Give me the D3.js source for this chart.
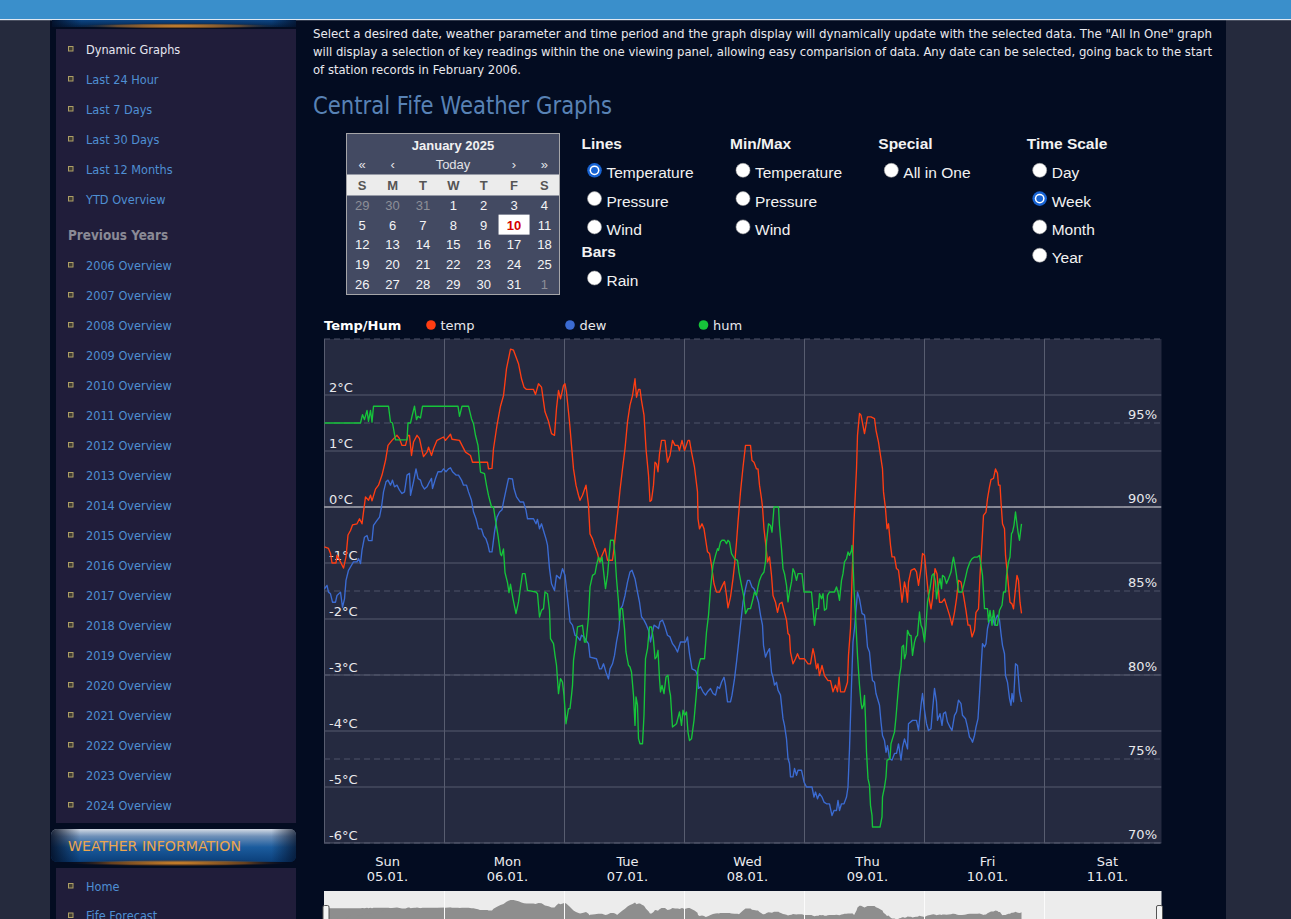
<!DOCTYPE html>
<html>
<head>
<meta charset="utf-8">
<title>Central Fife Weather Graphs</title>
<script src="https://cdn.jsdelivr.net/npm/d3@7/dist/d3.min.js"></script>
<style>
  html, body { margin: 0; padding: 0; background: #252a3d; overflow: hidden; }
  svg { display: block; }
</style>
</head>
<body>
<svg id="page"></svg>
<script>
// ---------- data ----------
const startUtc = Date.UTC(2025, 0, 5);   // Sun 05.01.2025 00:00
const dayNames = ['Sun', 'Mon', 'Tue', 'Wed', 'Thu', 'Fri', 'Sat'];
const dayDates = ['05.01.', '06.01.', '07.01.', '08.01.', '09.01.', '10.01.', '11.01.'];
const tempTicks = [-6, -5, -4, -3, -2, -1, 0, 1, 2];
const humTicks = [70, 75, 80, 85, 90, 95];
const humGrid = [70, 75, 80, 85, 90, 95, 100];
const legendNames = ['temp', 'dew', 'hum'];

// [hours since Sun 00:00, value]
const temp = [[0.1,-0.71],[0.9,-0.74],[1.3,-0.83],[1.6,-1.0],[2.4,-1.0],[2.6,-0.86],[3.3,-0.98],[3.9,-1.09],[4.4,-0.89],[4.8,-0.5],[5.3,-0.42],[5.7,-0.32],[6.6,-0.3],[7.1,-0.21],[7.6,-0.3],[7.9,-0.09],[8.3,0.18],[8.9,0.12],[9.3,0.21],[9.6,0.11],[10.3,0.32],[10.9,0.39],[11.6,0.57],[12.3,0.83],[12.8,1.1],[13.6,1.19],[14.6,1.28],[15.1,1.22],[15.6,1.1],[16.3,1.1],[16.8,1.28],[17.1,1.28],[17.5,0.92],[17.9,1.16],[18.6,1.28],[19.1,1.22],[19.6,1.01],[19.9,0.9],[20.6,0.98],[20.9,1.07],[21.5,0.92],[21.9,1.04],[22.6,1.19],[23.9,1.25],[24.3,1.19],[25.3,1.3],[25.6,1.21],[27.1,1.19],[27.6,1.1],[28.3,0.98],[29.3,0.92],[29.7,0.8],[32.7,0.8],[32.9,0.68],[33.6,0.69],[33.9,1.04],[34.6,1.46],[35.3,1.8],[35.9,1.99],[36.5,2.47],[37.3,2.82],[37.9,2.8],[38.9,2.56],[39.5,2.29],[40.0,2.14],[40.5,2.1],[41.9,2.1],[42.3,2.01],[42.9,2.2],[43.5,2.14],[44.2,1.7],[44.9,1.53],[45.5,1.31],[46.1,1.28],[46.5,1.76],[46.9,2.08],[47.3,1.93],[47.9,2.17],[48.2,2.2],[48.5,2.05],[49.1,1.52],[49.5,1.1],[49.9,0.68],[50.4,0.39],[50.9,0.21],[51.2,0.12],[51.7,0.21],[52.4,0.39],[52.9,0.03],[53.2,-0.48],[53.7,-0.57],[54.2,-0.71],[54.7,-0.83],[55.1,-0.98],[55.5,-0.89],[56.2,-0.74],[56.7,-0.95],[57.7,-0.95],[58.0,-0.74],[58.4,-0.39],[58.9,0.03],[59.2,0.3],[59.7,0.68],[60.2,1.04],[60.7,1.52],[61.2,1.82],[61.7,1.99],[62.2,2.29],[62.5,1.96],[62.9,2.1],[63.2,2.1],[63.5,1.9],[64.0,1.64],[64.4,1.04],[64.9,0.57],[65.2,0.1],[65.5,0.12],[65.9,0.39],[66.2,0.8],[66.5,0.77],[66.8,0.63],[67.1,0.95],[67.5,1.19],[68.2,1.19],[68.7,0.8],[69.2,0.92],[69.7,1.19],[70.2,1.1],[70.8,1.1],[71.1,1.01],[71.6,1.19],[72.1,1.01],[72.8,1.19],[73.1,1.19],[73.5,0.98],[74.1,0.71],[74.7,0.27],[74.8,-0.21],[75.1,-0.39],[75.6,-0.3],[76.0,-0.39],[76.7,-0.8],[77.1,-0.83],[77.5,-1.04],[78.0,-1.37],[78.5,-1.52],[79.1,-1.52],[79.7,-1.4],[80.1,-1.33],[80.5,-1.58],[80.8,-1.8],[81.3,-1.61],[81.8,-1.28],[82.1,-1.04],[82.5,-0.63],[82.8,-0.27],[83.3,0.27],[83.8,0.71],[84.3,1.1],[85.3,1.1],[85.6,0.83],[86.0,0.8],[86.5,0.68],[86.8,0.68],[87.1,0.39],[87.5,0.15],[87.7,0.0],[88.0,-0.39],[88.3,-0.63],[88.7,-0.98],[89.1,-0.89],[89.5,-1.22],[89.8,-1.58],[90.3,-1.7],[90.7,-1.88],[91.1,-1.73],[91.6,-1.7],[92.0,-1.85],[92.5,-2.02],[92.8,-2.26],[93.1,-2.29],[93.3,-2.59],[93.8,-2.8],[94.3,-2.71],[94.7,-2.62],[95.1,-2.71],[96.1,-2.71],[96.8,-2.8],[97.3,-2.8],[97.8,-2.53],[98.1,-2.65],[98.5,-2.89],[98.8,-2.8],[99.1,-3.01],[99.6,-2.83],[100.1,-3.01],[100.8,-3.1],[101.3,-3.1],[101.8,-3.3],[102.3,-3.18],[102.7,-3.3],[103.0,-3.04],[103.3,-3.3],[104.1,-3.3],[104.7,-3.13],[104.9,-2.65],[105.3,-2.17],[105.6,-1.28],[106.0,-0.27],[106.5,0.68],[106.7,1.28],[107.1,1.67],[107.4,1.64],[108.1,1.31],[108.7,1.61],[109.4,1.61],[110.1,1.58],[110.4,1.37],[110.9,1.16],[111.4,0.86],[111.7,0.68],[111.9,0.27],[112.3,-0.03],[112.6,-0.39],[112.9,-0.3],[113.3,-0.68],[113.6,-0.89],[114.1,-0.89],[114.5,-1.1],[114.9,-1.13],[115.2,-1.34],[115.6,-1.7],[116.1,-1.34],[116.4,-1.46],[116.7,-1.7],[116.9,-1.34],[117.4,-1.13],[118.1,-1.1],[118.5,-1.16],[118.9,-1.4],[119.4,-1.1],[119.7,-0.83],[120.1,-0.86],[120.5,-1.22],[120.9,-1.58],[121.4,-1.82],[121.7,-1.64],[122.2,-1.1],[122.6,-1.19],[123.1,-1.7],[123.6,-1.7],[124.1,-1.64],[124.4,-1.73],[125.1,-1.93],[125.6,-2.11],[126.1,-1.88],[126.5,-1.64],[126.9,-1.31],[127.4,-1.34],[127.9,-1.58],[128.4,-1.85],[128.8,-2.11],[129.2,-2.11],[129.6,-2.32],[130.1,-2.2],[130.4,-1.88],[130.9,-1.82],[131.2,-1.22],[131.6,-0.63],[131.9,-0.15],[132.4,-0.09],[132.7,0.15],[133.1,0.36],[133.4,0.49],[133.9,0.51],[134.3,0.68],[134.7,0.6],[134.9,0.39],[135.2,0.39],[135.4,0.09],[135.7,-0.3],[136.1,-0.39],[136.3,-0.86],[136.7,-1.22],[137.2,-1.7],[137.6,-1.73],[137.9,-1.82],[138.3,-1.46],[138.6,-1.22],[138.9,-1.31],[139.2,-1.7],[139.5,-1.9]];

const dew = [[0.1,-1.46],[0.6,-1.4],[0.9,-1.52],[1.3,-1.55],[1.7,-1.7],[2.3,-1.7],[2.6,-1.58],[3.3,-1.52],[3.7,-1.79],[4.1,-1.64],[4.4,-1.31],[4.9,-1.13],[5.5,-1.04],[5.9,-0.98],[6.6,-0.98],[6.9,-0.92],[7.3,-1.01],[7.6,-0.77],[8.1,-0.54],[8.6,-0.51],[8.9,-0.6],[9.6,-0.6],[9.9,-0.33],[10.6,-0.24],[11.1,-0.18],[11.5,0.0],[11.9,0.27],[12.4,0.45],[12.8,0.48],[13.3,0.39],[13.7,0.48],[14.1,0.36],[14.6,0.39],[15.1,0.3],[15.6,0.24],[16.1,0.27],[16.6,0.57],[17.1,0.6],[17.3,0.21],[17.9,0.45],[18.4,0.68],[18.8,0.51],[19.3,0.48],[19.6,0.39],[20.1,0.32],[20.6,0.36],[21.1,0.45],[21.5,0.51],[21.7,0.33],[22.3,0.51],[22.8,0.63],[23.5,0.63],[23.9,0.68],[24.4,0.63],[24.9,0.68],[25.3,0.7],[25.7,0.63],[26.4,0.57],[26.9,0.57],[27.5,0.48],[27.9,0.39],[28.5,0.39],[28.9,0.27],[29.5,0.12],[29.9,-0.09],[30.4,-0.21],[30.9,-0.39],[31.5,-0.39],[31.9,-0.51],[32.4,-0.57],[32.8,-0.68],[33.1,-0.8],[33.6,-0.8],[34.1,-0.45],[34.6,-0.18],[35.1,-0.09],[35.6,-0.05],[35.9,0.09],[36.4,0.3],[36.9,0.51],[37.7,0.5],[38.0,0.33],[38.5,0.18],[39.2,0.09],[39.9,0.09],[40.4,-0.06],[40.7,-0.21],[41.9,-0.21],[42.4,-0.3],[42.7,-0.22],[43.1,-0.39],[43.5,-0.3],[44.0,-0.45],[44.4,-0.57],[44.7,-0.68],[45.1,-1.1],[45.5,-1.37],[46.1,-1.49],[46.5,-1.22],[47.2,-1.28],[47.7,-1.1],[48.2,-1.22],[48.5,-1.46],[48.9,-1.79],[49.2,-2.05],[49.7,-2.11],[50.2,-2.29],[50.7,-2.32],[51.2,-2.38],[51.5,-2.29],[52.0,-2.32],[52.4,-2.38],[52.9,-2.44],[53.2,-2.68],[54.5,-2.71],[55.1,-2.89],[55.5,-2.89],[55.9,-2.8],[56.4,-2.95],[56.9,-3.07],[57.2,-2.89],[57.7,-2.8],[58.1,-2.65],[58.5,-2.41],[59.0,-2.17],[59.3,-1.82],[59.7,-1.76],[60.2,-1.58],[60.7,-1.34],[61.2,-1.16],[61.6,-1.13],[62.2,-1.28],[62.7,-1.52],[63.1,-1.7],[63.5,-1.96],[64.0,-2.02],[64.5,-2.11],[64.9,-2.2],[65.3,-2.41],[65.7,-2.23],[66.0,-2.11],[66.5,-2.14],[66.9,-2.17],[67.2,-2.05],[67.7,-2.02],[68.2,-2.14],[68.7,-2.29],[69.2,-2.32],[69.7,-2.44],[70.2,-2.5],[70.7,-2.59],[71.3,-2.41],[72.3,-2.41],[72.7,-2.32],[73.1,-2.62],[73.6,-2.89],[74.3,-2.92],[74.7,-3.01],[74.9,-3.24],[75.3,-3.21],[75.8,-3.3],[76.3,-3.36],[76.7,-3.3],[77.3,-3.24],[77.8,-3.33],[78.3,-3.36],[78.7,-3.21],[79.1,-3.24],[79.5,-3.13],[80.0,-3.04],[80.3,-3.18],[80.7,-3.48],[81.3,-3.48],[81.6,-3.36],[82.1,-3.07],[82.5,-2.77],[82.8,-2.53],[83.3,-2.11],[83.8,-1.7],[84.3,-1.46],[84.7,-1.31],[85.1,-1.31],[85.6,-1.43],[86.0,-1.46],[86.5,-1.58],[86.9,-1.7],[87.3,-1.93],[87.7,-2.11],[87.9,-2.47],[88.3,-2.68],[88.7,-2.59],[89.1,-2.53],[89.5,-2.95],[89.8,-3.04],[90.1,-3.18],[90.5,-3.13],[90.8,-3.27],[91.3,-3.36],[91.8,-3.78],[92.1,-3.9],[92.5,-4.14],[92.8,-4.49],[93.1,-4.58],[93.3,-4.82],[93.8,-4.82],[94.1,-4.67],[94.5,-4.79],[94.8,-4.7],[95.5,-4.7],[96.0,-4.91],[96.5,-5.0],[97.6,-5.0],[98.0,-5.18],[98.3,-5.09],[98.7,-5.21],[99.1,-5.12],[99.6,-5.18],[100.0,-5.27],[100.5,-5.3],[101.1,-5.3],[101.6,-5.51],[102.0,-5.42],[102.5,-5.42],[102.8,-5.24],[103.1,-5.42],[103.5,-5.3],[104.0,-5.3],[104.5,-5.18],[104.8,-5.0],[105.1,-4.32],[105.5,-3.18],[105.8,-2.41],[106.1,-2.17],[106.7,-1.52],[107.1,-1.64],[107.6,-1.9],[108.1,-1.93],[108.4,-2.17],[108.7,-2.5],[109.1,-2.59],[109.4,-2.89],[109.7,-3.1],[110.1,-3.13],[110.4,-3.33],[110.7,-3.42],[111.1,-3.54],[111.4,-3.84],[111.7,-4.08],[112.1,-4.17],[112.4,-4.38],[112.7,-4.26],[113.1,-4.49],[113.6,-4.52],[114.1,-4.4],[114.5,-4.4],[114.9,-4.23],[115.4,-4.52],[115.7,-4.29],[116.1,-4.14],[116.4,-4.23],[116.7,-4.32],[116.9,-3.87],[117.7,-3.81],[118.5,-3.81],[118.9,-3.99],[119.4,-3.54],[119.7,-3.33],[120.1,-3.63],[120.5,-3.87],[120.9,-3.99],[121.4,-3.96],[121.7,-3.63],[122.1,-3.24],[122.5,-3.48],[122.7,-3.81],[123.2,-3.69],[123.6,-3.9],[123.9,-3.69],[124.3,-3.66],[124.7,-3.84],[125.2,-3.93],[125.6,-3.99],[126.1,-3.72],[126.5,-3.66],[126.9,-3.45],[127.4,-3.51],[127.7,-3.72],[128.3,-3.78],[128.7,-3.93],[129.1,-4.11],[129.4,-4.14],[129.7,-4.2],[130.1,-4.08],[130.4,-3.93],[130.8,-3.78],[131.1,-3.36],[131.4,-2.89],[131.7,-2.44],[132.1,-2.5],[132.4,-2.44],[132.7,-2.17],[133.1,-2.02],[133.4,-2.02],[133.7,-1.96],[134.1,-2.11],[134.4,-1.99],[134.7,-1.93],[135.1,-2.02],[135.4,-2.26],[135.7,-2.47],[136.1,-2.62],[136.3,-3.01],[136.7,-3.13],[137.1,-3.42],[137.4,-3.54],[137.6,-3.33],[137.9,-3.48],[138.3,-2.8],[138.7,-2.83],[139.1,-3.3],[139.5,-3.48]];

const hum = [[0.1,95],[7.3,95],[7.7,95.5],[8.1,95.2],[8.6,95.75],[8.9,95.1],[9.3,95.75],[9.6,95.05],[9.9,96],[12.9,96],[13.3,95.06],[13.7,95],[14.3,94],[16.6,94],[16.8,95],[17.3,95],[17.6,95.4],[18.1,96],[18.5,95.2],[18.8,95.4],[19.3,95.3],[19.7,96],[26.8,96],[27.1,95.4],[27.6,96],[28.9,96],[29.5,95.26],[29.9,94.96],[30.3,94.27],[30.8,93.67],[31.3,92.08],[32.1,91.98],[32.5,91.29],[32.9,90.69],[33.5,90],[33.9,90],[34.3,89.2],[34.8,88.3],[35.3,87.2],[35.5,87.1],[35.9,87.5],[36.2,86.1],[36.7,85.5],[37.0,84.9],[37.3,85.4],[37.7,84.7],[38.4,83.65],[38.9,84.35],[39.3,85.24],[39.7,86.03],[40.2,86.03],[40.7,85.04],[42.4,84.94],[42.7,84.84],[43.1,83.45],[43.5,83.85],[43.9,83.95],[44.2,84.94],[44.7,84.84],[45.1,83.85],[45.3,82.16],[45.9,81.87],[46.2,81.17],[46.5,80.58],[46.9,78.89],[47.3,79.78],[47.7,79.58],[48.0,78.79],[48.4,77.1],[48.9,78.0],[49.2,78.0],[49.5,78.79],[49.7,79.38],[49.9,80.87],[50.4,81.96],[50.7,82.86],[51.7,82.96],[52.1,81.96],[52.4,81.96],[52.9,83.45],[53.2,85.24],[53.7,85.93],[54.2,86.03],[54.5,86.53],[54.9,87.02],[55.3,86.73],[55.6,87.02],[56.0,85.93],[56.3,85.14],[56.7,85.93],[57.1,87.32],[57.3,88.02],[57.9,88.02],[58.2,87.12],[58.5,85.73],[58.9,84.35],[59.1,83.25],[59.3,83.95],[59.7,83.95],[60.1,82.76],[60.4,81.37],[60.9,80.58],[61.2,80.48],[61.5,80.18],[61.9,78.79],[62.2,77.0],[62.4,78.7],[62.7,78.2],[62.9,76.21],[63.2,75.91],[63.7,75.91],[64.0,77.6],[64.3,80.97],[64.7,81.57],[65.1,82.86],[65.5,82.86],[65.9,82.06],[66.2,80.97],[66.5,81.07],[66.8,81.47],[67.1,79.78],[67.3,78.99],[67.6,79.38],[68.0,78.89],[68.4,79.88],[68.8,79.98],[69.1,79.08],[69.3,78.79],[69.7,76.9],[70.5,77.1],[71.1,77.8],[71.5,77.0],[71.8,77.9],[72.1,77.6],[72.5,77.8],[72.8,76.6],[73.1,76.1],[73.5,76.2],[74.0,77.3],[74.5,79.0],[74.8,80.38],[75.3,80.97],[76.1,80.97],[76.5,82.56],[76.9,83.55],[77.3,85.14],[77.8,86.53],[78.3,87.12],[78.7,87.52],[78.9,87.42],[79.3,87.92],[79.6,88.02],[80.1,88.02],[80.5,87.82],[80.8,88.02],[81.1,87.92],[81.5,87.22],[82.1,86.92],[82.7,86.82],[83.0,86.13],[83.5,85.34],[83.9,84.74],[84.3,83.65],[84.8,83.95],[85.3,83.95],[85.8,84.54],[86.1,84.94],[86.5,84.74],[86.8,85.24],[87.1,85.63],[87.5,85.93],[88.0,86.13],[88.3,86.73],[88.5,87.92],[88.9,89.0],[89.3,88.9],[89.6,88.5],[90.0,90],[90.9,90],[91.1,88.9],[91.5,87.52],[91.8,86.33],[92.1,86.03],[92.5,85.34],[92.8,84.35],[93.1,84.94],[93.5,85.54],[93.8,86.33],[94.1,86.13],[94.5,85.63],[94.8,86.03],[95.6,86.03],[96.0,84.94],[97.5,84.94],[97.8,83.95],[98.1,82.96],[98.5,83.95],[98.9,83.95],[99.1,84.84],[99.5,84.54],[99.8,84.84],[100.1,83.85],[100.5,83.95],[100.7,84.74],[101.1,84.94],[102.1,84.94],[102.5,85.24],[102.8,84.94],[103.1,84.44],[103.5,85.63],[103.8,86.03],[104.1,86.73],[104.5,86.92],[104.8,87.32],[105.1,87.12],[105.5,87.42],[105.6,87.72],[105.8,86.73],[106.0,85.14],[106.3,83.55],[106.7,81.17],[107.1,79.38],[107.4,78.39],[107.6,78.0],[107.9,78.2],[108.1,78.79],[108.3,77.4],[108.5,75.42],[108.8,73.83],[109.1,73.43],[109.3,72.24],[109.6,71.65],[109.7,70.95],[111.2,70.95],[111.6,71.55],[111.7,72.74],[112.1,73.33],[112.4,73.93],[112.6,74.92],[113.2,75.02],[113.4,75.91],[113.7,76.21],[114.1,76.6],[114.4,77.5],[114.7,78.59],[115.1,79.98],[115.4,80.48],[115.6,81.67],[115.9,81.77],[116.1,80.97],[116.4,81.27],[116.7,82.66],[117.1,82.36],[117.4,82.36],[117.7,81.17],[118.1,81.96],[118.4,82.26],[118.7,82.36],[119.1,83.75],[119.4,82.96],[119.7,82.76],[120.1,81.96],[120.4,82.96],[120.7,84.35],[121.2,85.14],[121.6,85.93],[121.9,86.03],[122.3,85.54],[122.5,84.54],[122.9,85.34],[123.2,85.73],[123.5,85.14],[123.7,85.93],[124.1,85.83],[124.5,85.44],[124.9,85.73],[125.4,86.13],[125.7,86.73],[125.9,87.02],[126.3,86.33],[126.5,85.93],[126.9,84.94],[127.6,84.94],[128.1,85.54],[128.4,85.93],[128.7,86.33],[129.2,86.73],[129.6,86.92],[130.1,87.02],[130.7,87.02],[131.1,87.12],[131.4,86.53],[131.7,85.93],[132.1,83.95],[132.7,83.95],[132.9,83.15],[133.2,83.85],[133.6,82.96],[133.9,83.85],[134.3,82.96],[134.7,82.96],[135.1,83.85],[135.6,84.15],[135.9,84.94],[136.3,84.94],[136.5,85.93],[136.9,86.73],[137.2,87.02],[137.5,88.41],[137.7,88.51],[138.0,88.91],[138.3,89.7],[138.5,89.21],[138.8,88.51],[139.1,88.02],[139.3,88.51],[139.5,89.0]];

// sidebar and page texts
const menuLinks = ['Dynamic Graphs', 'Last 24 Hour', 'Last 7 Days', 'Last 30 Days', 'Last 12 Months', 'YTD Overview'];
const yearLinks = ['2006 Overview', '2007 Overview', '2008 Overview', '2009 Overview', '2010 Overview', '2011 Overview',
  '2012 Overview', '2013 Overview', '2014 Overview', '2015 Overview', '2016 Overview', '2017 Overview', '2018 Overview',
  '2019 Overview', '2020 Overview', '2021 Overview', '2022 Overview', '2023 Overview', '2024 Overview'];
const infoLinks = ['Home', 'Fife Forecast'];
const introLines = [
  'Select a desired date, weather parameter and time period and the graph display will dynamically update with the selected data. The "All In One" graph',
  'will display a selection of key readings within the one viewing panel, allowing easy comparision of data. Any date can be selected, going back to the start',
  'of station records in February 2006.'
];

// calendar
const calWeekdays = ['S', 'M', 'T', 'W', 'T', 'F', 'S'];
const calWeeks = [[29, 30, 31, 1, 2, 3, 4], [5, 6, 7, 8, 9, 10, 11], [12, 13, 14, 15, 16, 17, 18],
  [19, 20, 21, 22, 23, 24, 25], [26, 27, 28, 29, 30, 31, 1]];
const calNav = [['«', 0], ['‹', 1], ['Today', 3], ['›', 5], ['»', 6]];

// radio groups
const linesOpts = ['Temperature', 'Pressure', 'Wind'];
const barsOpts = ['Rain'];
const minMaxOpts = ['Temperature', 'Pressure', 'Wind'];
const specialOpts = ['All in One'];
const timeOpts = ['Day', 'Week', 'Month', 'Year'];

// ---------- drawing ----------
const W = 1291, H = 919;
const uiFont = '"DejaVu Sans Condensed", "DejaVu Sans", sans-serif';
const chartFont = '"DejaVu Sans", Verdana, sans-serif';
const formFont = '"Liberation Sans", Arial, sans-serif';
const colors = { temp: '#ff3d12', dew: '#3b6bd2', hum: '#16c43a' };

const svg = d3.select('#page').attr('width', W).attr('height', H);
const defs = svg.append('defs');

// page frame
svg.append('rect').attr('width', W).attr('height', H).attr('fill', '#252a3d');
svg.append('rect').attr('x', 50).attr('y', 19).attr('width', 1176).attr('height', H - 19).attr('fill', '#030c21');
svg.append('rect').attr('width', W).attr('height', 19).attr('fill', '#3a8fcb');
svg.append('rect').attr('y', 19).attr('width', W).attr('height', 1.2).attr('fill', '#dfe8f2');

// gradients for sidebar headers
const hg = defs.append('linearGradient').attr('id', 'hdr').attr('x1', 0).attr('y1', 0).attr('x2', 0).attr('y2', 1);
hg.append('stop').attr('offset', 0).attr('stop-color', '#d3dae4');
hg.append('stop').attr('offset', 0.22).attr('stop-color', '#6f90b8');
hg.append('stop').attr('offset', 0.55).attr('stop-color', '#1b5c9e');
hg.append('stop').attr('offset', 1).attr('stop-color', '#0b3f7a');
const he = defs.append('linearGradient').attr('id', 'hdrEdge');
he.append('stop').attr('offset', 0).attr('stop-color', '#030c21').attr('stop-opacity', 0.85);
he.append('stop').attr('offset', 0.12).attr('stop-color', '#030c21').attr('stop-opacity', 0);
he.append('stop').attr('offset', 0.9).attr('stop-color', '#030c21').attr('stop-opacity', 0);
he.append('stop').attr('offset', 1).attr('stop-color', '#030c21').attr('stop-opacity', 0.7);
const glow = defs.append('radialGradient').attr('id', 'glow');
glow.append('stop').attr('offset', 0).attr('stop-color', '#e0902e').attr('stop-opacity', 1);
glow.append('stop').attr('offset', 0.6).attr('stop-color', '#a8641e').attr('stop-opacity', 0.6);
glow.append('stop').attr('offset', 1).attr('stop-color', '#030c21').attr('stop-opacity', 0);
const topDeco = defs.append('linearGradient').attr('id', 'topDeco').attr('x1', 0).attr('y1', 0).attr('x2', 0).attr('y2', 1);
topDeco.append('stop').attr('offset', 0).attr('stop-color', '#0c4584');
topDeco.append('stop').attr('offset', 1).attr('stop-color', '#06254b');

// ---- sidebar ----
const side = svg.append('g').attr('font-family', uiFont);
side.append('rect').attr('x', 52).attr('y', 20).attr('width', 244).attr('height', 7).attr('fill', 'url(#topDeco)');
side.append('rect').attr('x', 52).attr('y', 20).attr('width', 244).attr('height', 7).attr('fill', 'url(#hdrEdge)');
side.append('ellipse').attr('cx', 178).attr('cy', 26).attr('rx', 105).attr('ry', 3).attr('fill', 'url(#glow)');
side.append('rect').attr('x', 56).attr('y', 29).attr('width', 240).attr('height', 794).attr('fill', '#201d3a');

function bullet(g, y) {
  g.append('rect').attr('x', 68.5).attr('y', y - 2.5).attr('width', 4.5).attr('height', 4.5)
    .attr('fill', '#403c33').attr('stroke', '#ad9f66').attr('stroke-width', 1);
}
function menuItem(label, y, color) {
  bullet(side, y);
  side.append('text').attr('x', 86).attr('y', y + 4.6).attr('font-size', 12.6)
    .attr('fill', color).text(label);
}
menuLinks.forEach((m, i) => menuItem(m, 49 + i * 30, i === 0 ? '#e6e6f0' : '#4f8fd3'));
side.append('text').attr('x', 68).attr('y', 240).attr('font-size', 13.4).attr('font-weight', 'bold')
  .attr('fill', '#8a8a96').text('Previous Years');
yearLinks.forEach((m, i) => menuItem(m, 265 + i * 30, '#4f8fd3'));

// weather information header
side.append('rect').attr('x', 51).attr('y', 829).attr('width', 245).attr('height', 33).attr('rx', 6)
  .attr('fill', 'url(#hdr)');
side.append('rect').attr('x', 51).attr('y', 829).attr('width', 245).attr('height', 33).attr('rx', 6)
  .attr('fill', 'url(#hdrEdge)');
side.append('ellipse').attr('cx', 178).attr('cy', 863).attr('rx', 115).attr('ry', 3.5).attr('fill', 'url(#glow)');
side.append('text').attr('x', 68).attr('y', 851).attr('font-size', 14).attr('fill', '#eca64e')
  .attr('textLength', 173).attr('lengthAdjust', 'spacingAndGlyphs').text('WEATHER INFORMATION');
side.append('rect').attr('x', 56).attr('y', 868).attr('width', 240).attr('height', 60).attr('fill', '#201d3a');
infoLinks.forEach((m, i) => menuItem(m, 886 + i * 29.5, '#4f8fd3'));

// ---- intro + title ----
const intro = svg.append('g').attr('font-family', uiFont).attr('fill', '#e9e9ee');
intro.selectAll('text').data(introLines).join('text')
  .attr('x', 313).attr('y', (d, i) => 37.5 + i * 18).attr('font-size', 12.8)
  .attr('textLength', (d, i) => i < 2 ? 899 : 208).attr('lengthAdjust', 'spacingAndGlyphs')
  .text(d => d);
svg.append('text').attr('x', 313).attr('y', 113.5).attr('font-family', uiFont).attr('font-size', 25)
  .attr('fill', '#5882b5').attr('textLength', 299).attr('lengthAdjust', 'spacingAndGlyphs')
  .text('Central Fife Weather Graphs');

// ---- calendar ----
const cal = svg.append('g').attr('font-family', formFont).attr('font-size', 13).attr('text-anchor', 'middle');
const colX = d3.scaleBand().domain(d3.range(7)).range([347, 559.6]);
const cx = i => colX(i) + colX.bandwidth() / 2;
cal.append('rect').attr('x', 346.5).attr('y', 133.5).attr('width', 213).attr('height', 161)
  .attr('fill', '#434a62').attr('stroke', '#a5a5a8');
cal.append('rect').attr('x', 347).attr('y', 174.5).attr('width', 212).attr('height', 21).attr('fill', '#ececec');
cal.append('text').attr('x', 453).attr('y', 149.5).attr('font-weight', 'bold').attr('fill', '#f2f2f2').text('January 2025');
calNav.forEach(([t, c]) => cal.append('text').attr('x', c === 3 ? 453 : cx(c)).attr('y', 168.5)
  .attr('fill', '#e2e2e6').text(t));
calWeekdays.forEach((t, c) => cal.append('text').attr('x', cx(c)).attr('y', 189.5)
  .attr('font-weight', 'bold').attr('fill', '#555').text(t));
const rowY = d3.scalePoint().domain(d3.range(5)).range([210, 288.5]);
calWeeks.forEach((week, r) => week.forEach((d, c) => {
  const other = (r === 0 && d > 20) || (r === 4 && d < 10);
  const today = r === 1 && d === 10;
  if (today) {
    cal.append('rect').attr('x', cx(c) - 15.5).attr('y', rowY(r) - 15).attr('width', 31).attr('height', 20)
      .attr('fill', '#ffffff');
  }
  cal.append('text').attr('x', cx(c)).attr('y', rowY(r))
    .attr('fill', today ? '#d40000' : other ? '#8d8f98' : '#f4f4f6')
    .attr('font-weight', today ? 'bold' : 'normal').text(d);
}));

// ---- radio groups ----
const form = svg.append('g').attr('font-family', formFont).attr('font-size', 15.5).attr('fill', '#f2f2f2');
function radio(cxp, cyp, checked) {
  if (checked) {
    form.append('circle').attr('cx', cxp).attr('cy', cyp).attr('r', 7.3).attr('fill', '#1763d3');
    form.append('circle').attr('cx', cxp).attr('cy', cyp).attr('r', 4.9).attr('fill', '#ffffff');
    form.append('circle').attr('cx', cxp).attr('cy', cyp).attr('r', 3.4).attr('fill', '#1763d3');
  } else {
    form.append('circle').attr('cx', cxp).attr('cy', cyp).attr('r', 7).attr('fill', '#ffffff')
      .attr('stroke', '#a0a0a0').attr('stroke-width', 0.6);
  }
}
function group(title, opts, x0, titleY, firstY, checked) {
  form.append('text').attr('x', x0).attr('y', titleY).attr('font-weight', 'bold').text(title);
  opts.forEach((o, i) => {
    const by = firstY + i * 28.3;
    radio(x0 + 13, by - 8, o === checked);
    form.append('text').attr('x', x0 + 25).attr('y', by).text(o);
  });
}
group('Lines', linesOpts, 581.5, 149, 178.3, 'Temperature');
group('Bars', barsOpts, 581.5, 256.7, 286, null);
group('Min/Max', minMaxOpts, 730, 149, 178.3, null);
group('Special', specialOpts, 878.3, 149, 178.3, null);
group('Time Scale', timeOpts, 1026.7, 149, 178.3, 'Week');

// ---- chart ----
const plotL = 324, plotR = 1161.5, plotT = 339, plotB = 843;
const t0 = new Date(startUtc), t1 = new Date(startUtc + 7 * 864e5);
const x = d3.scaleUtc().domain([t0, t1]).range([324, 1164]);
const yT = d3.scaleLinear().domain([-6, 3]).range([plotB, plotT]);
const yH = d3.scaleLinear().domain([70, 100]).range([plotB, plotT]);
const pts = arr => arr.map(([h, v]) => ({ t: new Date(startUtc + h * 36e5), v }));
const dayStarts = d3.utcDay.range(new Date(startUtc + 864e5), t1);

defs.append('clipPath').attr('id', 'plotClip').append('rect')
  .attr('x', plotL).attr('y', plotT - 2).attr('width', plotR - plotL).attr('height', plotB - plotT + 4);

const chart = svg.append('g').attr('font-family', chartFont).attr('font-size', 13);
chart.append('rect').attr('x', plotL).attr('y', plotT).attr('width', plotR - plotL).attr('height', plotB - plotT)
  .attr('fill', '#252a40');

// grid
const grid = chart.append('g').attr('clip-path', 'url(#plotClip)');
grid.selectAll('.vline').data([t0, ...dayStarts]).join('line').attr('class', 'vline')
  .attr('x1', d => x(d) + 0.5).attr('x2', d => x(d) + 0.5).attr('y1', plotT).attr('y2', plotB)
  .attr('stroke', '#585d70').attr('stroke-width', 1);
grid.selectAll('.hdash').data(humGrid).join('line').attr('class', 'hdash')
  .attr('x1', plotL).attr('x2', plotR).attr('y1', d => yH(d)).attr('y2', d => yH(d))
  .attr('stroke', '#4e5368').attr('stroke-width', 1.2).attr('stroke-dasharray', '6,4');
grid.selectAll('.tline').data(tempTicks).join('line').attr('class', 'tline')
  .attr('x1', plotL).attr('x2', plotR).attr('y1', d => yT(d)).attr('y2', d => yT(d))
  .attr('stroke', d => d === 0 ? '#a3a5ae' : '#565b6e').attr('stroke-width', d => d === 0 ? 1.7 : 1.1);

// axes labels inside the plot
const axL = chart.append('g').attr('transform', 'translate(329,0)')
  .call(d3.axisRight(yT).tickValues(tempTicks).tickSize(0).tickPadding(0).tickFormat(d => d + '°C'));
axL.select('.domain').remove();
axL.selectAll('text').attr('dy', '-0.3em').attr('fill', '#e8e8ec').attr('font-family', chartFont).attr('font-size', 13);

const axR = chart.append('g').attr('transform', 'translate(1157,0)')
  .call(d3.axisLeft(yH).tickValues(humTicks).tickSize(0).tickPadding(0).tickFormat(d => d + '%'));
axR.select('.domain').remove();
axR.selectAll('text').attr('dy', '-0.36em').attr('fill', '#e8e8ec').attr('font-family', chartFont).attr('font-size', 13);

// series
const lineT = d3.line().x(d => x(d.t)).y(d => yT(d.v));
const lineH = d3.line().x(d => x(d.t)).y(d => yH(d.v));
const series = chart.append('g').attr('clip-path', 'url(#plotClip)').attr('fill', 'none')
  .attr('stroke-width', 1.35).attr('stroke-linejoin', 'round');
series.append('path').attr('d', lineT(pts(temp))).attr('stroke', colors.temp);
series.append('path').attr('d', lineT(pts(dew))).attr('stroke', colors.dew);
series.append('path').attr('d', lineH(pts(hum))).attr('stroke', colors.hum);

// x axis (day labels at noon)
const noons = d3.utcDay.range(t0, t1).map(d => new Date(+d + 12 * 36e5));
const axX = chart.append('g').attr('transform', `translate(3,${plotB})`)
  .call(d3.axisBottom(x).tickValues(noons).tickSize(0).tickPadding(0).tickFormat(() => ''));
axX.select('.domain').remove();
axX.selectAll('.tick text').each(function (d, i) {
  const t = d3.select(this).attr('fill', '#ececf0').attr('font-family', chartFont).attr('font-size', 13).attr('dy', null).attr('y', 0);
  t.append('tspan').attr('x', 0).attr('y', 22.5).text(dayNames[i]);
  t.append('tspan').attr('x', 0).attr('y', 38).text(dayDates[i]);
});

// legend
const leg = chart.append('g');
leg.append('text').attr('x', 324).attr('y', 330).attr('font-weight', 'bold').attr('fill', '#ffffff').text('Temp/Hum');
const legX = [431, 570, 703.5];
legendNames.forEach((n, i) => {
  leg.append('circle').attr('cx', legX[i]).attr('cy', 325).attr('r', 4.8).attr('fill', colors[n]);
  leg.append('text').attr('x', legX[i] + 9.5).attr('y', 330).attr('fill', '#e8e8ec').text(n);
});

// ---- navigator ----
const navT = 891, navB = 940;
defs.append('clipPath').attr('id', 'navClip').append('rect')
  .attr('x', plotL).attr('y', navT).attr('width', plotR - plotL).attr('height', navB - navT);
const nav = svg.append('g');
nav.append('rect').attr('x', plotL).attr('y', navT).attr('width', plotR - plotL).attr('height', navB - navT)
  .attr('fill', '#ececec');
const yNT = d3.scaleLinear().domain([-3.4, 2.9]).range([931, 899.5]);
const yNH = d3.scaleLinear().domain([70, 100]).range([925, 905]);
const navG = nav.append('g').attr('clip-path', 'url(#navClip)');
navG.append('path').attr('d', d3.area().x(d => x(d.t)).y0(navB).y1(d => yNH(d.v))(pts(hum)))
  .attr('fill', '#8e8e8e');
navG.append('path').attr('d', d3.area().x(d => x(d.t)).y0(navB).y1(d => yNT(d.v))(pts(temp)))
  .attr('fill', '#8e8e8e');
navG.selectAll('line').data(dayStarts).join('line')
  .attr('x1', d => x(d) + 0.5).attr('x2', d => x(d) + 0.5).attr('y1', navT).attr('y2', navB)
  .attr('stroke', '#fbfbfb').attr('stroke-width', 1);
[plotL + 2, plotR - 2].forEach(hx => {
  nav.append('rect').attr('x', hx - 3).attr('y', 905.5).attr('width', 6).attr('height', 15).attr('rx', 1.5)
    .attr('fill', '#f4f4f4').attr('stroke', '#555').attr('stroke-width', 1);
});
</script>
</body>
</html>
